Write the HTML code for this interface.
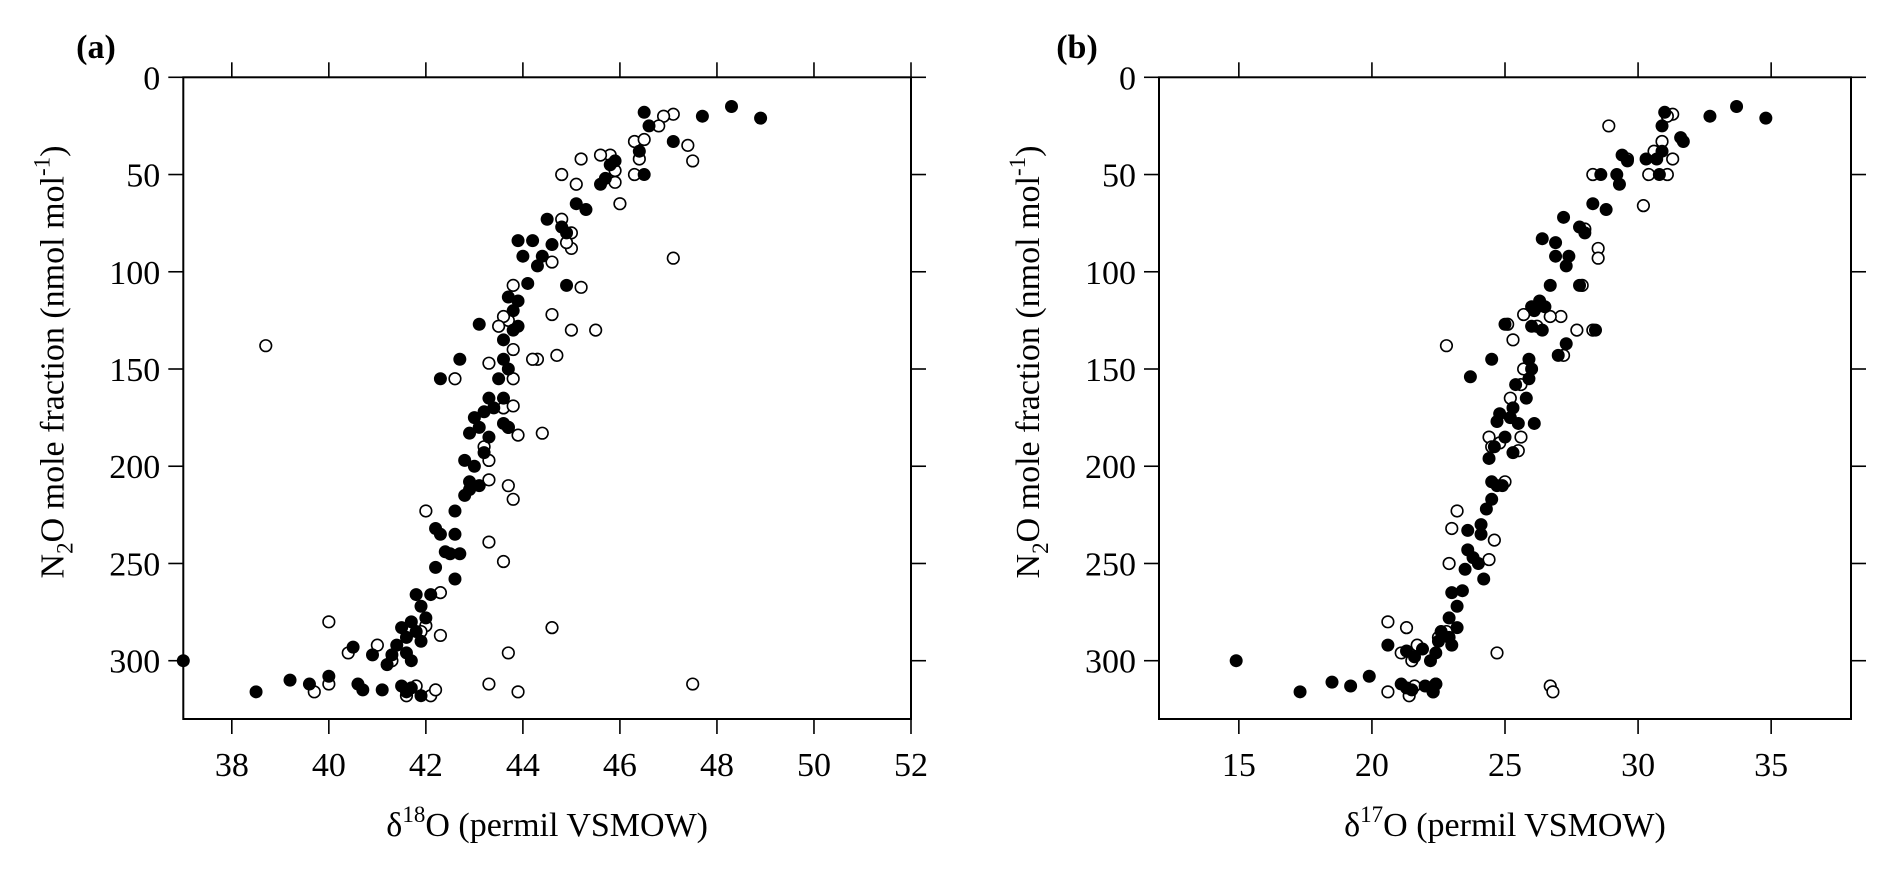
<!DOCTYPE html>
<html><head><meta charset="utf-8"><style>
html,body{margin:0;padding:0;background:#fff;}
svg{display:block;font-family:"Liberation Serif",serif;}
</style></head>
<body>
<svg id="chart" width="1892" height="870" viewBox="0 0 1892 870" xmlns="http://www.w3.org/2000/svg">
<text x="96" y="58" font-size="34" font-weight="bold" text-anchor="middle">(a)</text>
<text x="1077" y="58" font-size="34" font-weight="bold" text-anchor="middle">(b)</text>
<g id="pa"></g>
<g id="pb"></g>
</svg>
<script>
const yTicks=[0,50,100,150,200,250,300];
const aXTicks=[38,40,42,44,46,48,50,52];
const bXTicks=[15,20,25,30,35];
const aFilledX=[48.9,48.3,47.7,47.1,46.6,46.5,46.4,46.5,45.8,45.7,45.6,45.9,45.3,45.1,44.8,44.6,44.5,44.9,44.2,44.0,43.9,44.4,44.3,44.1,44.9,43.9,43.8,43.7,43.9,43.8,43.6,43.1,42.7,42.3,43.6,43.7,43.5,43.3,43.6,43.2,43.0,43.4,43.1,42.9,43.3,43.7,43.6,43.2,42.8,43.0,43.1,42.9,42.8,42.9,42.6,42.2,42.3,42.4,42.5,42.2,42.6,42.1,41.8,41.9,42.0,41.7,41.5,41.8,41.6,41.9,41.4,41.6,41.3,41.7,41.2,40.5,40.9,40.0,37.0,38.5,39.2,39.6,40.6,40.7,41.1,41.5,41.6,41.9,41.7,42.6,42.7];
const aFilledY=[21,15,20,33,25,18,38,50,45,52,55,43,68,65,77,86,73,80,84,92,84,92,97,106,107,115,120,113,128,130,135,127,145,155,145,150,155,165,165,172,175,170,180,183,185,180,178,193,197,200,210,208,215,212,223,232,235,244,245,252,258,266,266,272,278,280,283,285,288,290,292,296,297,300,302,293,297,308,300,316,310,312,312,315,315,313,316,318,314,235,245];
const aOpenX=[47.1,46.9,46.8,47.4,47.5,46.3,46.5,46.4,46.3,45.9,45.9,45.8,45.6,46.0,45.1,45.2,44.8,45.0,45.0,44.8,44.9,47.1,45.2,44.6,43.8,43.7,43.6,44.6,45.0,45.5,44.3,44.2,44.7,43.3,43.5,43.8,43.8,43.6,43.7,43.9,43.8,43.3,43.3,43.7,43.8,44.4,43.2,42.0,43.3,43.6,42.3,42.3,42.0,41.9,40.0,40.4,41.0,41.3,38.7,42.6,43.7,44.6,43.3,43.9,42.1,42.2,41.8,41.6,39.7,40.0,47.5];
const aOpenY=[19,20,25,35,43,33,32,42,50,48,54,40,40,65,55,42,50,80,88,73,85,93,108,95,107,125,123,122,130,130,145,145,143,147,128,140,155,170,180,184,169,197,207,210,217,183,190,223,239,249,265,287,282,285,280,296,292,300,138,155,296,283,312,316,318,315,313,318,316,312,312];
const bFilledX=[34.8,33.7,32.7,31.7,31.0,30.9,30.9,30.8,30.3,29.6,29.3,29.4,29.2,28.6,28.8,28.3,27.8,27.4,28.0,27.2,26.9,26.4,26.9,27.3,26.7,27.8,26.3,26.1,26.0,26.5,26.4,26.0,27.3,28.4,27.0,25.9,24.5,25.0,26.0,25.9,25.4,25.8,25.3,24.8,24.7,25.2,25.5,26.1,25.0,24.6,25.3,24.4,24.5,24.7,24.9,24.5,24.3,24.1,23.6,24.1,23.6,23.8,23.5,24.0,24.2,23.4,23.0,23.2,22.9,22.6,22.9,22.5,23.0,22.4,21.9,22.2,21.6,21.3,20.6,19.9,14.9,17.3,18.5,19.2,21.1,21.3,21.5,22.0,22.3,22.4,23.2,30.7,31.6,23.7];
const bFilledY=[21,15,20,33,18,25,38,50,42,43,55,40,50,50,68,65,77,92,80,72,85,83,92,97,107,107,115,120,118,118,130,128,137,130,143,145,145,127,150,155,158,165,170,173,177,175,178,178,185,190,193,196,208,210,210,217,222,230,233,235,243,247,253,250,258,264,265,272,278,285,288,290,292,296,294,300,298,295,292,308,300,316,311,313,312,314,315,313,316,312,283,42,31,154];
const bOpenX=[31.3,31.1,28.9,30.9,31.3,30.6,30.4,31.1,30.2,29.6,28.3,28.5,28.5,28.3,27.9,27.7,28.0,27.1,27.2,26.7,26.2,25.7,25.3,25.7,25.6,25.2,25.6,25.5,24.8,24.4,24.5,25.0,24.6,24.4,23.2,23.0,22.9,22.8,25.1,26.2,22.5,22.8,21.7,21.5,21.1,20.6,21.3,24.7,20.6,21.4,21.6,22.3,22.4,26.7,26.8];
const bOpenY=[19,20,25,33,42,38,50,50,66,42,50,88,93,130,107,130,78,123,143,123,128,122,135,150,158,165,185,192,188,185,190,208,238,248,223,232,250,138,127,118,288,285,292,300,296,280,283,296,316,318,313,316,312,313,316];

const NS="http://www.w3.org/2000/svg";
const yTop=77.3, yPx=1.9447, yBot=719;
function yS(v){return yTop+v*yPx;}
function mk(tag,attrs,parent,txt){const e=document.createElementNS(NS,tag);for(const k in attrs)e.setAttribute(k,attrs[k]);if(txt!==undefined)e.textContent=txt;parent.appendChild(e);return e;}

function panel(g,x0,x1,v0,v1,xt,fx,fy,ox,oy,sup,prefix){
  const xS=v=>x0+(v-v0)*(x1-x0)/(v1-v0);
  const f=mk('rect',{x:x0,y:yTop,width:x1-x0,height:yBot-yTop,fill:'none',stroke:'#000','stroke-width':2},g);
  
  
  yTicks.forEach(t=>{
    const y=yS(t);
    mk('line',{x1:x0-15,x2:x0,y1:y,y2:y,stroke:'#000','stroke-width':1.6},g);
    mk('line',{x1:x1,x2:x1+15,y1:y,y2:y,stroke:'#000','stroke-width':1.6},g);
    const l=mk('text',{x:x0-23,y:y+12,'font-size':34,'text-anchor':'end'},g,String(t));
    
    
  });
  xt.forEach(t=>{
    const x=xS(t);
    mk('line',{x1:x,x2:x,y1:yBot,y2:yBot+15,stroke:'#000','stroke-width':1.6},g);
    mk('line',{x1:x,x2:x,y1:yTop-15,y2:yTop,stroke:'#000','stroke-width':1.6},g);
    const l=mk('text',{x:x,y:776,'font-size':34,'text-anchor':'middle'},g,String(t));
    
    
  });
  const cx=(x0+x1)/2;
  const xt2=mk('text',{x:cx,y:836,'font-size':34,'text-anchor':'middle'},g);
  
  
  xt2.innerHTML='δ<tspan dy="-14" font-size="23">'+sup+'</tspan><tspan dy="14">O (permil VSMOW)</tspan>';
  const yl=mk('text',{transform:'translate('+(x0-120)+',362) rotate(-90)','font-size':34,'text-anchor':'middle'},g);
  
  
  yl.innerHTML='N<tspan dy="9" font-size="23">2</tspan><tspan dy="-9">O mole fraction (nmol mol</tspan><tspan dy="-14" font-size="23">-1</tspan><tspan dy="14">)</tspan>';
  ox.forEach((v,i)=>{
    const c=mk('circle',{cx:xS(v),cy:yS(oy[i]),r:5.8,fill:'#fff',stroke:'#000','stroke-width':1.6},g);
    
    
  });
  fx.forEach((v,i)=>{
    const c=mk('circle',{cx:xS(v),cy:yS(fy[i]),r:6.5,fill:'#000'},g);
    
    
  });
}
panel(document.getElementById('pa'),183.3,911,37,52,aXTicks,aFilledX,aFilledY,aOpenX,aOpenY,'18','panel-a');
panel(document.getElementById('pb'),1159,1851,12,38,bXTicks,bFilledX,bFilledY,bOpenX,bOpenY,'17','panel-b');
</script>
</body></html>
